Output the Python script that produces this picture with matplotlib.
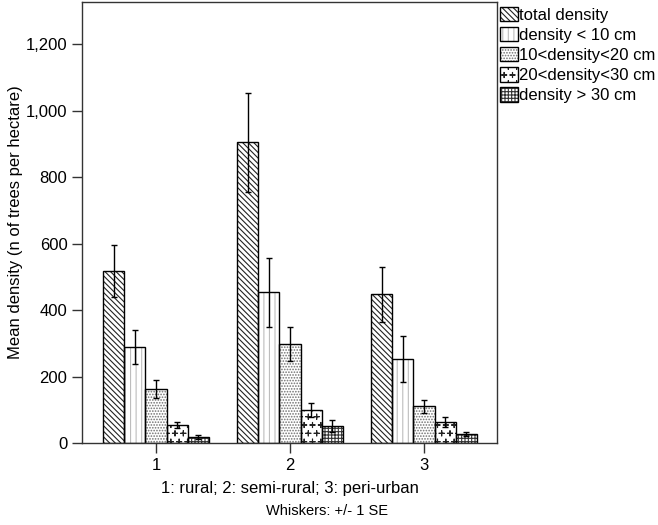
# plot.py
# Mật độ cây trung bình theo khu vực (SPSS-style grouped bar chart)

import numpy as np
import matplotlib
matplotlib.use("Agg")
import matplotlib.pyplot as plt
import matplotlib.hatch as mhatch
from matplotlib.path import Path
from matplotlib.ticker import FuncFormatter

matplotlib.rcParams['font.family'] = ['Liberation Sans', 'DejaVu Sans']
matplotlib.rcParams['hatch.linewidth'] = 0.8


# Custom hatch: small plus signs (thay cho '*' mặc định)
class PlusHatch(mhatch.Shapes):
    filled = False
    size = 0.6
    shape_vertices = np.array([[-0.5, 0.0], [0.5, 0.0], [0.0, -0.5], [0.0, 0.5]])
    shape_codes = np.array([Path.MOVETO, Path.LINETO, Path.MOVETO, Path.LINETO],
                           dtype=Path.code_type)

    def __init__(self, hatch, density):
        self.num_rows = hatch.count('*') * density
        super().__init__(hatch, density)


mhatch._hatch_types[-1] = PlusHatch

# ============================================================
# DỮ LIỆU
# ============================================================
groups = ["1", "2", "3"]
series = ["total density", "density < 10 cm", "10<density<20 cm",
          "20<density<30 cm", "density > 30 cm"]

total_mean = [517, 905, 448]
lt10_mean = [289, 453, 253]
d10_20_mean = [162, 298, 111]
d20_30_mean = [54, 99, 63]
gt30_mean = [18, 51, 27]

total_se = [78, 149, 83]
lt10_se = [52, 104, 70]
d10_20_se = [27, 52, 20]
d20_30_se = [9, 21, 14]
gt30_se = [5, 18, 7]

means = [total_mean, lt10_mean, d10_20_mean, d20_30_mean, gt30_mean]
ses = [total_se, lt10_se, d10_20_se, d20_30_se, gt30_se]
hatches = ['\\' * 6, '|||', '......', '**', '+' * 5]
hatch_colors = ["#222222", "#bdbdbd", "#707070", "#222222", "#333333"]

# ============================================================
# VẼ
# ============================================================
fig = plt.figure(figsize=(6.58, 5.25), dpi=100)
ax = fig.add_axes([0.1246, 0.156, 0.6307, 0.840])

x = np.arange(1, len(groups) + 1)
w = 0.158
handles = []
for i, (m, s, h, hc) in enumerate(zip(means, ses, hatches, hatch_colors)):
    pos = x + (i - 2) * w
    # lớp hatch (màu riêng), rồi viền đen
    b1 = ax.bar(pos, m, width=w, color="white", edgecolor=hc,
                linewidth=0, hatch=h, zorder=2)
    b2 = ax.bar(pos, m, width=w, fill=False, edgecolor="black",
                linewidth=1.0, zorder=2.5)
    ax.errorbar(pos, m, yerr=s, fmt="none", ecolor="black",
                elinewidth=1.0, capsize=2.5, capthick=1.0, zorder=3)
    handles.append((b1[0], b2[0]))

ax.set_xlim(0.448, 3.545)
ax.set_ylim(0, 1326)
ax.set_xticks(x)
ax.set_xticklabels(groups)
ax.set_yticks(np.arange(0, 1201, 200))
ax.yaxis.set_major_formatter(FuncFormatter(lambda v, p: f"{v:,.0f}"))
ax.tick_params(axis="both", direction="out", length=7, width=1.0,
               labelsize=12, color="#333333")
for sp in ax.spines.values():
    sp.set_color("#333333")
    sp.set_linewidth(1.0)

ax.set_ylabel("Mean density (n of trees per hectare)", fontsize=12, labelpad=2)
ax.set_xlabel("1: rural; 2: semi-rural; 3: peri-urban", fontsize=12, labelpad=6)

fig.text(0.497, 0.013, "Whiskers: +/- 1 SE", fontsize=10.5, ha="center",
         va="bottom")

fig.legend(handles, series, loc="upper left", bbox_to_anchor=(0.757, 0.99),
           frameon=False, fontsize=12, handlelength=1.1, handleheight=0.95,
           handletextpad=0.06, labelspacing=0.25, borderpad=0.1,
           borderaxespad=0)

plt.savefig("out.png", dpi=100)
